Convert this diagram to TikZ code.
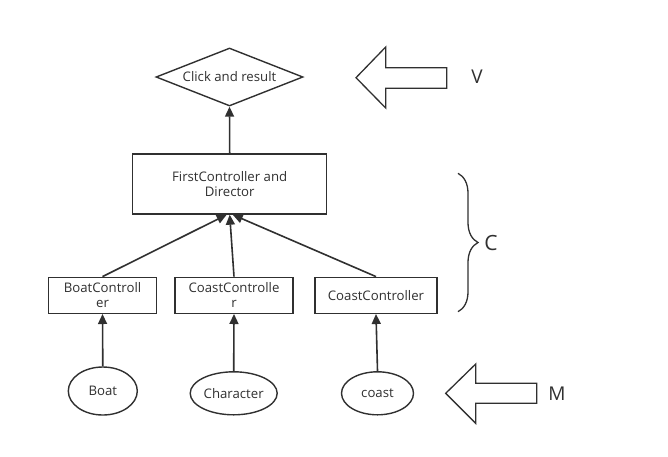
\documentclass[tikz,border=0pt]{standalone}
\usepackage{fontspec}
\setmainfont{Open Sans}
\usepackage{tikz}
\usetikzlibrary{shapes,arrows.meta,calc,decorations.pathreplacing}
\definecolor{ink}{HTML}{303030}
\tikzset{
         labelfont/.style={font=\fontsize{13.2}{15.3}\selectfont},
         box/.style={draw=ink,line width=1.4pt,inner sep=0pt,align=center,text=ink,labelfont},
         oval/.style={box,ellipse},
         decision/.style={box,diamond,shape aspect=2.5},
         link/.style={draw=ink,line width=1.6pt,-{Triangle[length=10pt,width=9pt]}},
         hollow/.style={draw=ink,line width=1.3pt},
         letter/.style={text=ink,font=\fontsize{19}{22}\selectfont}
        }
\begin{document}
\begin{tikzpicture}[x=1pt,y=-1pt]
\useasboundingbox (0,0) rectangle (668,456);

%view
\node[decision,minimum width=147pt,minimum height=58pt] (click) at (229.5,77) {Click and result};

%controllers
\node[box,minimum width=194pt,minimum height=60pt] (first) at (229.7,184) {FirstController and\\Director};
\node[box,minimum width=108pt,minimum height=36pt] (boatctrl) at (102.5,295.3) {BoatControll\\er};
\node[box,minimum width=118pt,minimum height=36pt] (charctrl) at (234,295.3) {CoastControlle\\r};
\node[box,minimum width=122pt,minimum height=36pt] (coastctrl) at (376,295.3) {CoastController};

%models
\node[oval,minimum width=69pt,minimum height=48pt] (boat) at (102.8,391) {Boat};
\node[oval,minimum width=87pt,minimum height=43pt] (char) at (233.7,393.3) {Character};
\node[oval,minimum width=72pt,minimum height=43pt] (coast) at (377.5,393.3) {coast};

%some lines
\draw[link] (first.north) -- (click.south);
\draw[link] (boatctrl.north) -- ([xshift=-3pt]first.south);
\draw[link] (charctrl.north) -- ([xshift=0pt]first.south);
\draw[link] (coastctrl.north) -- ([xshift=3pt]first.south);
\draw[link] (boat.north) -- (boatctrl.south);
\draw[link] (char.north) -- (charctrl.south);
\draw[link] (coast.north) -- (coastctrl.south);

%big arrows and letters
\draw[hollow] (356,77.7)--(385.7,47)--(385.7,67.7)--(446.7,67.7)--(446.7,88.3)--(385.7,88.3)--(385.7,108)--cycle;
\node[letter] (v) at (477,77) {V};
\draw[hollow,decorate,decoration={brace,amplitude=20pt}] (458,173.3)--(458,311.7);
\node[letter,font=\fontsize{21}{24}\selectfont] (c) at (491,243) {C};
\draw[hollow] (445.7,393.3)--(475.7,364)--(475.7,383.3)--(536.7,383.3)--(536.7,403.3)--(475.7,403.3)--(475.7,423.3)--cycle;
\node[letter] (m) at (557,394) {M};
\end{tikzpicture}
\end{document}
